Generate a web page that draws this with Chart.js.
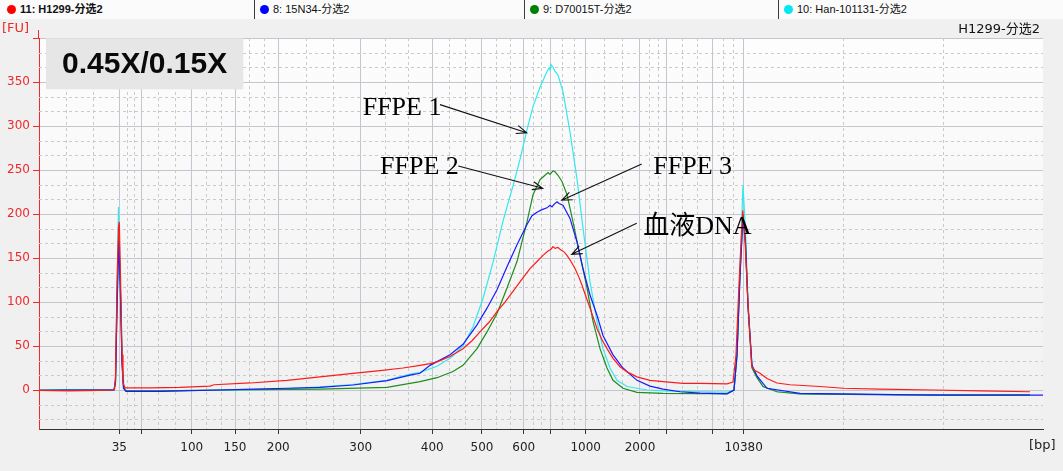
<!DOCTYPE html>
<html>
<head>
<meta charset="utf-8">
<script src="https://cdn.jsdelivr.net/npm/chart.js@4.4.1/dist/chart.umd.min.js"></script>
<style>
  html, body { margin:0; padding:0; background:#f0f0f0; }
  #wrap { position:relative; width:1063px; height:471px; overflow:hidden; }
  #c { position:absolute; left:0; top:0; }
  #bar { position:absolute; left:0; top:0; width:1063px; height:19px; background:#fbfbfb; z-index:2; }
  .cell { position:absolute; top:0; height:19px; border-right:1px solid #3c3c3c; font-family:"Liberation Sans","Noto Sans CJK SC",sans-serif; font-size:11px; color:#111; }
  .cell .dot { position:absolute; left:4px; top:5px; width:9px; height:9px; border-radius:50%; }
  .cell .txt { position:absolute; left:20px; top:2px; white-space:nowrap; line-height:15px; }
</style>
</head>
<body>
<div id="wrap">
  <canvas id="c" width="1063" height="471"></canvas>
  <div id="bar"></div>
</div>
<script>
// ---------- data (migration time in s, fluorescence in FU) ----------
const seriesNames = ['11: H1299-分选2', '8: 15N34-分选2', '9: D70015T-分选2', '10: Han-101131-分选2'];
const seriesColors = ['#ff1a1a', '#1a1aff', '#1e8c1e', '#33e8ee'];
const legendDotColors = ['#ff0000', '#0000ff', '#008000', '#00e8f0'];

const ladderTime  = [28.03, 30.2, 35.27, 39.6, 43.93, 52.17, 59.33, 64.3, 68.47, 71.13, 74.67, 80.1, 82.77, 87.3, 90.47];
const ladderLabel = ['35', '', '100', '150', '200', '300', '400', '500', '600', '', '1000', '2000', '', '', '10380'];
const yTickValues = [0, 50, 100, 150, 200, 250, 300, 350, 400];
const yTickLabels = ['0', '50', '100', '150', '200', '250', '300', '350', ''];

const redTime = [20.0,23.0,26.0,27.4,27.55,27.65,27.8,27.95,28.03,28.15,28.3,28.4,28.6,31.1,34.1,37.1,37.5,41.1,44.8,48.1,51.4,54.1,56.4,58.1,59.1,59.8,61.1,62.4,63.3,64.1,65.0,65.8,66.6,67.4,68.3,69.1,69.8,70.4,70.9,71.2,71.4,71.6,71.9,72.2,72.5,72.8,73.2,73.6,74.0,74.3,74.7,75.1,75.5,75.8,76.3,76.8,77.4,78.1,78.9,79.8,81.1,82.4,84.4,86.1,88.8,89.4,89.7,90.0,90.37,90.6,90.9,91.27,91.6,92.1,92.8,93.8,95.1,98.1,100.4,104.1,109.4,114.1,119.1];
const redFU   = [-0.5,-1,-0.5,0,1,15,120,185,191,130,40,8,2.5,2.5,3,4.5,6,8,11,15,19,22,25,28,30,32,38,47,56,66,77,89,100,112,126,138,146,153,158,160,163,161,162,159,157,153,146,138,128,119,106,93,80,70,57,47,36,26.5,20,15,11,9.5,7.6,7.5,7,9,40,120,204,170,99,27,22,19,13,8,6,4,2,1,0,-1,-2];

const blueTime = [20.0,23.0,26.0,27.5,27.65,27.8,27.98,28.13,28.3,28.45,28.7,32.1,38.1,41.4,44.8,48.1,51.4,54.8,57.1,58.1,59.1,61.1,62.4,63.8,64.8,65.8,66.8,67.8,68.8,69.3,69.8,70.3,70.8,71.1,71.3,71.5,71.8,72.0,72.4,73.1,73.8,74.4,75.1,75.8,76.4,77.4,78.4,79.8,81.1,82.4,84.1,86.1,88.8,89.5,89.8,90.1,90.4,90.65,90.9,91.3,91.8,92.8,96.1,109.4,120.4];
const blueFU   = [-0.5,0,0,0,10,90,170,115,30,2,-1.5,-1.5,0,1,2,3,5.7,10.6,17,19,28,40,52,74,93,114,140,165,188,198,202,205,207,210,208,211,214,212,210,195,168,138,108,85,62,40,25,11,4.5,1,-2,-3.5,-4.5,0,40,130,198,165,95,28,16,2,-3.8,-5.7,-5.7];

const greenTime = [20.0,23.0,26.0,27.5,27.65,27.8,27.98,28.13,28.3,28.45,28.7,32.1,38.1,48.1,54.8,58.1,59.8,61.4,62.4,63.8,64.8,65.8,66.8,67.8,68.8,69.4,70.1,70.6,70.9,71.1,71.4,71.6,71.9,72.3,72.8,73.4,74.1,74.8,75.4,76.1,76.8,77.4,78.4,79.8,82.4,86.1,88.8,89.5,89.8,90.1,90.4,90.65,90.9,91.3,91.8,92.4,93.8,96.1,106.1,119.1];
const greenFU   = [-0.5,0,0,0,10,100,178,120,35,3,-1,-1,0,1,3,9.5,14,21,28,47,66,87,116,146,191,222,239,244,247,245,249,248,244,237,222,191,153,116,78,47,25,11,2,-2.6,-3.8,-4,-4,0,40,130,200,170,95,25,14,4,-2,-4.5,-5.5,-5.5];

const cyanTime = [20.0,23.0,26.0,27.5,27.65,27.8,27.95,28.05,28.2,28.35,28.5,28.7,32.1,36.1,41.1,44.1,47.4,51.1,54.8,57.1,58.1,59.8,61.1,61.4,62.4,63.4,64.4,65.4,66.4,67.4,68.1,68.8,69.4,70.1,70.8,71.0,71.1,71.2,71.3,71.4,71.6,71.9,72.4,73.1,73.8,74.4,75.1,75.8,76.4,77.1,77.8,78.8,80.8,82.4,86.1,88.8,89.5,89.8,90.1,90.4,90.65,90.9,91.3,91.8,92.4,93.8,96.1,101.1,111.1,119.1];
const cyanFU   = [0,0.5,0.3,0,5,115,208,160,90,30,2,-1,-1,-0.5,0,1,3,6,11,18,20,27,36,39,50,72,104,145,192,232,262,296,322,344,362,366,364,370,368,367,362,358,339,293,240,184,123,78,47,25,11,4,0,-1,-2,-2.5,0,40,140,233,180,100,26,15,4,-2,-4.5,-5,-5.5,-5.5];

// annotations (data coordinates: time, FU)
const boxText = '0.45X/0.15X';
const annotLabels = ['FFPE 1', 'FFPE 2', 'FFPE 3', '血液DNA'];
const annotTextPos = [[52.37, 320.7], [54.1, 252.8], [81.43, 253.4], [80.43, 184.7]];
const annotArrowFrom = [[60.1, 324.3], [61.93, 254.5], [80.27, 256.8], [79.77, 189.4]];
const annotArrowTo = [[68.77, 292.4], [70.37, 229.2], [72.27, 215.7], [73.27, 154.2]];

// ---------- legend bar ----------
const cellEdges = [0, 255, 525, 779, 1063];
const bar = document.getElementById('bar');
seriesNames.forEach((n, i) => {
  const d = document.createElement('div');
  d.className = 'cell';
  d.style.left = (cellEdges[i] + (i ? 1 : 0)) + 'px';
  d.style.width = (cellEdges[i+1] - cellEdges[i] - (i ? 2 : 1)) + 'px';
  if (i === 3) d.style.borderRight = 'none';
  const dot = document.createElement('div');
  dot.className = 'dot';
  dot.style.left = (i ? 4 : 7) + 'px';
  dot.style.background = legendDotColors[i];
  const t = document.createElement('div');
  t.className = 'txt';
  t.style.left = (i ? 17 : 20) + 'px';
  t.textContent = n;
  if (i === 0) t.style.fontWeight = 'bold';
  d.appendChild(dot); d.appendChild(t);
  bar.appendChild(d);
});

// ---------- chart ----------
const zip = (xs, ys) => xs.map((x, i) => ({x: x, y: ys[i]}));
const seriesData = [zip(redTime, redFU), zip(blueTime, blueFU), zip(greenTime, greenFU), zip(cyanTime, cyanFU)];

function arrow(ctx, x1, y1, x2, y2) {
  ctx.beginPath();
  ctx.moveTo(x1, y1); ctx.lineTo(x2, y2);
  const a = Math.atan2(y2 - y1, x2 - x1);
  const L = 11, w = 0.38;
  ctx.moveTo(x2 - L * Math.cos(a - w), y2 - L * Math.sin(a - w));
  ctx.lineTo(x2, y2);
  ctx.lineTo(x2 - L * Math.cos(a + w), y2 - L * Math.sin(a + w));
  ctx.stroke();
}

const decor = {
  id: 'decor',
  beforeDraw(chart) {
    const {ctx, chartArea: a} = chart;
    const g = ctx.createLinearGradient(0, a.top, 0, a.bottom);
    g.addColorStop(0, '#fdfdfd');
    g.addColorStop(1, '#f0f0f0');
    ctx.save();
    ctx.fillStyle = g;
    ctx.fillRect(a.left, a.top, a.right - a.left, a.bottom - a.top);
    ctx.restore();
  },
  beforeDatasetsDraw(chart) {
    const {ctx, chartArea: a, scales: {x, y}} = chart;
    ctx.save();
    ctx.beginPath(); ctx.rect(a.left, a.top, a.right - a.left, a.bottom - a.top); ctx.clip();
    ctx.strokeStyle = '#cacaca'; ctx.lineWidth = 1; ctx.setLineDash([3, 3]);
    const edges = [x.min].concat(ladderTime, [x.max]);
    for (let i = 0; i < edges.length - 1; i++) {
      for (const f of [1/3, 2/3]) {
        const px = Math.round(x.getPixelForValue(edges[i] + (edges[i+1] - edges[i]) * f)) + 0.5;
        ctx.beginPath(); ctx.moveTo(px, a.top); ctx.lineTo(px, a.bottom); ctx.stroke();
      }
    }
    for (let v = -50; v < 400; v += 50) {
      for (const f of [1/3, 2/3]) {
        const val = v + 50 * f;
        if (val < y.min || val > y.max) continue;
        const py = Math.round(y.getPixelForValue(val)) + 0.5;
        ctx.beginPath(); ctx.moveTo(a.left, py); ctx.lineTo(a.right, py); ctx.stroke();
      }
    }
    ctx.restore();
  },
  afterDraw(chart) {
    const {ctx, chartArea: a, scales: {x, y}} = chart;
    ctx.save();
    // axis extension and axis titles
    ctx.strokeStyle = '#ee2a2a'; ctx.lineWidth = 1;
    ctx.beginPath(); ctx.moveTo(a.left - 0.5, 30); ctx.lineTo(a.left - 0.5, a.top); ctx.stroke();
    ctx.font = '13px "DejaVu Sans", "Noto Sans CJK SC"';
    ctx.textBaseline = 'middle';
    ctx.fillStyle = '#ee2a2a'; ctx.textAlign = 'left';
    ctx.fillText('[FU]', 2, 29);
    ctx.fillStyle = '#222';
    ctx.fillText('[bp]', 1029, 446);
    ctx.fillStyle = '#111'; ctx.textAlign = 'right';
    ctx.fillText('H1299-分选2', 1040, 30);

    // box
    const bx1 = x.getPixelForValue(20.7), bx2 = x.getPixelForValue(40.43);
    const by1 = y.getPixelForValue(399.7), by2 = y.getPixelForValue(341.7);
    ctx.fillStyle = '#e6e6e6';
    ctx.fillRect(bx1, by1, bx2 - bx1, by2 - by1);
    ctx.fillStyle = '#0a0a0a';
    ctx.font = 'bold 30px "Liberation Sans", Arial, sans-serif';
    ctx.textAlign = 'center';
    ctx.fillText(boxText, (bx1 + bx2) / 2, (by1 + by2) / 2 + 1);

    // annotations
    ctx.font = '26px "Liberation Serif", "Noto Sans CJK SC", serif';
    ctx.textAlign = 'left';
    ctx.fillStyle = '#000';
    annotLabels.forEach((t, i) => {
      ctx.fillText(t, x.getPixelForValue(annotTextPos[i][0]), y.getPixelForValue(annotTextPos[i][1]));
    });
    ctx.strokeStyle = '#111'; ctx.lineWidth = 1.1;
    annotArrowFrom.forEach((p, i) => {
      const q = annotArrowTo[i];
      arrow(ctx, x.getPixelForValue(p[0]), y.getPixelForValue(p[1]), x.getPixelForValue(q[0]), y.getPixelForValue(q[1]));
    });
    ctx.restore();
  }
};

new Chart(document.getElementById('c'), {
  type: 'scatter',
  data: {
    datasets: seriesNames.map((n, i) => ({
      label: n,
      data: seriesData[i],
      showLine: true,
      borderColor: seriesColors[i],
      backgroundColor: seriesColors[i],
      borderWidth: 1.2,
      pointRadius: 0,
      fill: false,
      tension: 0
    }))
  },
  options: {
    responsive: false,
    animation: false,
    devicePixelRatio: 1,
    layout: { padding: { top: 38, right: 20, left: 0, bottom: 0 } },
    plugins: { legend: { display: false }, tooltip: { enabled: false } },
    scales: {
      x: {
        type: 'linear', min: 20, max: 120.4,
        afterBuildTicks(s) { s.ticks = ladderTime.map(v => ({ value: v })); },
        afterFit(s) { s.height = 42; },
        ticks: {
          autoSkip: false, maxRotation: 0, minRotation: 0, padding: 7,
          color: '#222', font: { family: 'DejaVu Sans', size: 12 },
          callback: (v, i) => ladderLabel[i]
        },
        grid: { color: '#c2c6ce', lineWidth: 1, tickLength: 5, tickColor: '#333' },
        border: { color: '#333', width: 1 }
      },
      y: {
        min: -44.3, max: 400,
        afterBuildTicks(s) { s.ticks = yTickValues.map(v => ({ value: v })); },
        afterFit(s) { s.width = 39; },
        ticks: {
          padding: 3, color: '#ee2a2a', font: { family: 'DejaVu Sans', size: 12 },
          callback: (v, i) => yTickLabels[i]
        },
        grid: { color: '#c2c6ce', lineWidth: 1, tickLength: 6, tickColor: '#ee2a2a' },
        border: { color: '#ee2a2a', width: 1 }
      }
    }
  },
  plugins: [decor]
});
</script>
</body>
</html>
